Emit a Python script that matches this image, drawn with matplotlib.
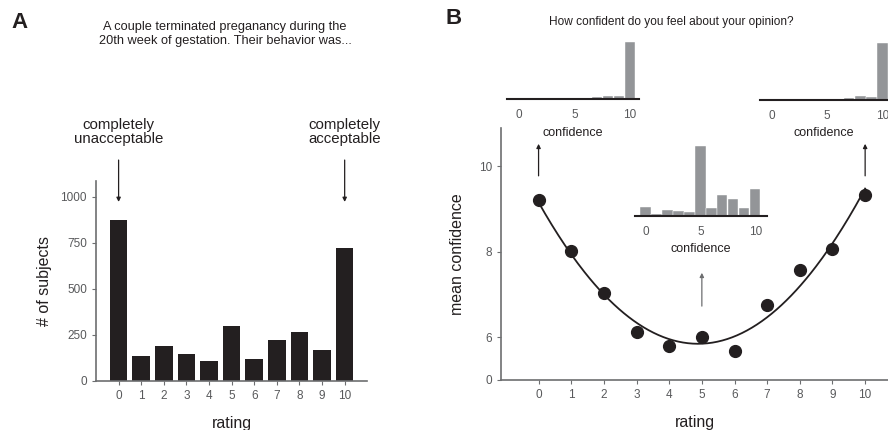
import matplotlib
matplotlib.use("Agg")
import matplotlib.pyplot as plt
import numpy as np

plt.rcParams['font.family'] = ['Liberation Sans', 'DejaVu Sans']

# Panel A: number of subjects per rating
ratings = np.arange(11)
n_subjects = [876, 135, 189, 145, 107, 298, 118, 222, 265, 167, 724]

# Panel B: mean confidence per rating
mean_conf = [9.22, 8.01, 7.03, 6.13, 5.80, 6.01, 5.69, 6.76, 7.58, 8.07, 9.32]

# inset histograms of confidence (share of subjects)
conf_levels = np.arange(11)
hist_rating0 = [0.018, 0, 0, 0, 0, 0.014, 0.018, 0.038, 0.052, 0.052, 0.806]
hist_rating5 = [0.051, 0.011, 0.034, 0.028, 0.023, 0.395, 0.045, 0.119, 0.096, 0.045, 0.153]
hist_rating10 = [0, 0, 0, 0, 0, 0.018, 0.02, 0.033, 0.062, 0.047, 0.82]

DARK = '#231f20'
AXIS = '#6d6e70'
TICK = '#58595b'
GRAY_BAR = '#939598'

fig = plt.figure(figsize=(8.88, 4.30), dpi=100)


def style_axis(ax):
    for s in ['top', 'right']:
        ax.spines[s].set_visible(False)
    for s in ['left', 'bottom']:
        ax.spines[s].set_color(AXIS)
        ax.spines[s].set_linewidth(1.2)
    ax.tick_params(colors=AXIS, labelcolor=TICK, labelsize=8.5, length=3, width=0.8)


# ---- Panel A ----
axA = fig.add_axes([0.1081, 0.1147, 0.3055, 0.4644])
axA.bar(ratings, n_subjects, width=0.78, color=DARK)
axA.set_xlim(-1.0, 11.0)
axA.set_ylim(0, 1087)
axA.set_xticks(ratings)
axA.set_yticks([0, 250, 500, 750, 1000])
style_axis(axA)
axA.set_xlabel('rating', fontsize=11.5, color=DARK, labelpad=10)
axA.set_ylabel('# of subjects', fontsize=11.5, color=DARK, labelpad=6)

for x, txt in [(0, 'completely\nunacceptable'), (10, 'completely\nacceptable')]:
    axA.annotate('', xy=(x, 973), xytext=(x, 1201),
                 arrowprops=dict(arrowstyle='-|>', color=DARK, lw=0.9,
                                 mutation_scale=6, shrinkA=0, shrinkB=0))
    axA.text(x, 1355, txt, ha='center', va='center', fontsize=10.8,
             color=DARK, linespacing=1.0)

fig.text(20 / 888, 1 - 22 / 430, 'A', fontsize=16, fontweight='bold',
         color=DARK, ha='center', va='center')
fig.text(225 / 888, 1 - 34 / 430,
         'A couple terminated preganancy during the\n20th week of gestation. Their behavior was...',
         fontsize=9.2, color=DARK, ha='center', va='center', linespacing=1.3)

# ---- Panel B ----
axB = fig.add_axes([0.5642, 0.1163, 0.4358, 0.586])
axB.plot(ratings, mean_conf, 'o', color=DARK, markersize=8.5, zorder=3)
coef = np.polyfit(ratings, mean_conf, 2)
xs = np.linspace(0, 10, 200)
axB.plot(xs, np.polyval(coef, xs), color=DARK, lw=1.3, zorder=2)
axB.set_xlim(-1.15, 10.7)
axB.set_ylim(5.0, 10.9)
axB.set_xticks(ratings)
axB.set_yticks([5, 6, 8, 10])
axB.set_yticklabels(['0', '6', '8', '10'])
style_axis(axB)
axB.set_xlabel('rating', fontsize=11.5, color=DARK, labelpad=10)
axB.set_ylabel('mean confidence', fontsize=11.5, color=DARK, labelpad=10)

for x, y0, y1, c in [(0, 9.78, 10.53, DARK), (10, 9.78, 10.53, DARK), (5, 6.73, 7.51, '#6d6e70')]:
    axB.annotate('', xy=(x, y1), xytext=(x, y0),
                 arrowprops=dict(arrowstyle='-|>', color=c, lw=0.9,
                                 mutation_scale=6, shrinkA=0, shrinkB=0),
                 annotation_clip=False)

fig.text(454 / 888, 1 - 18 / 430, 'B', fontsize=16, fontweight='bold',
         color=DARK, ha='center', va='center')
fig.text(671 / 888, 1 - 22 / 430, 'How confident do you feel about your opinion?',
         fontsize=8.6, color=DARK, ha='center', va='center')


def inset(rect, values, xlim):
    ax = fig.add_axes(rect)
    ax.bar(conf_levels, values, width=0.94, color=GRAY_BAR, edgecolor='white', linewidth=0.3)
    ax.set_xlim(*xlim)
    ax.set_ylim(0, max(values))
    for s in ['top', 'right', 'left']:
        ax.spines[s].set_visible(False)
    ax.spines['bottom'].set_color(DARK)
    ax.spines['bottom'].set_linewidth(1.5)
    ax.set_yticks([])
    ax.set_xticks([0, 5, 10])
    ax.tick_params(axis='x', length=0, pad=7, labelsize=8.5, labelcolor=TICK)
    ax.set_xlabel('confidence', fontsize=9, color=DARK, labelpad=4)
    ax.patch.set_alpha(0)
    return ax


inset([0.5706, 0.769, 0.149, 0.1326], hist_rating0, (-1.1, 10.8))
inset([0.7147, 0.4977, 0.1493, 0.1628], hist_rating5, (-1.0, 11.1))
inset([0.8559, 0.7674, 0.1441, 0.133], hist_rating10, (-1.05, 10.5))

fig.savefig('out.png', dpi=100)
